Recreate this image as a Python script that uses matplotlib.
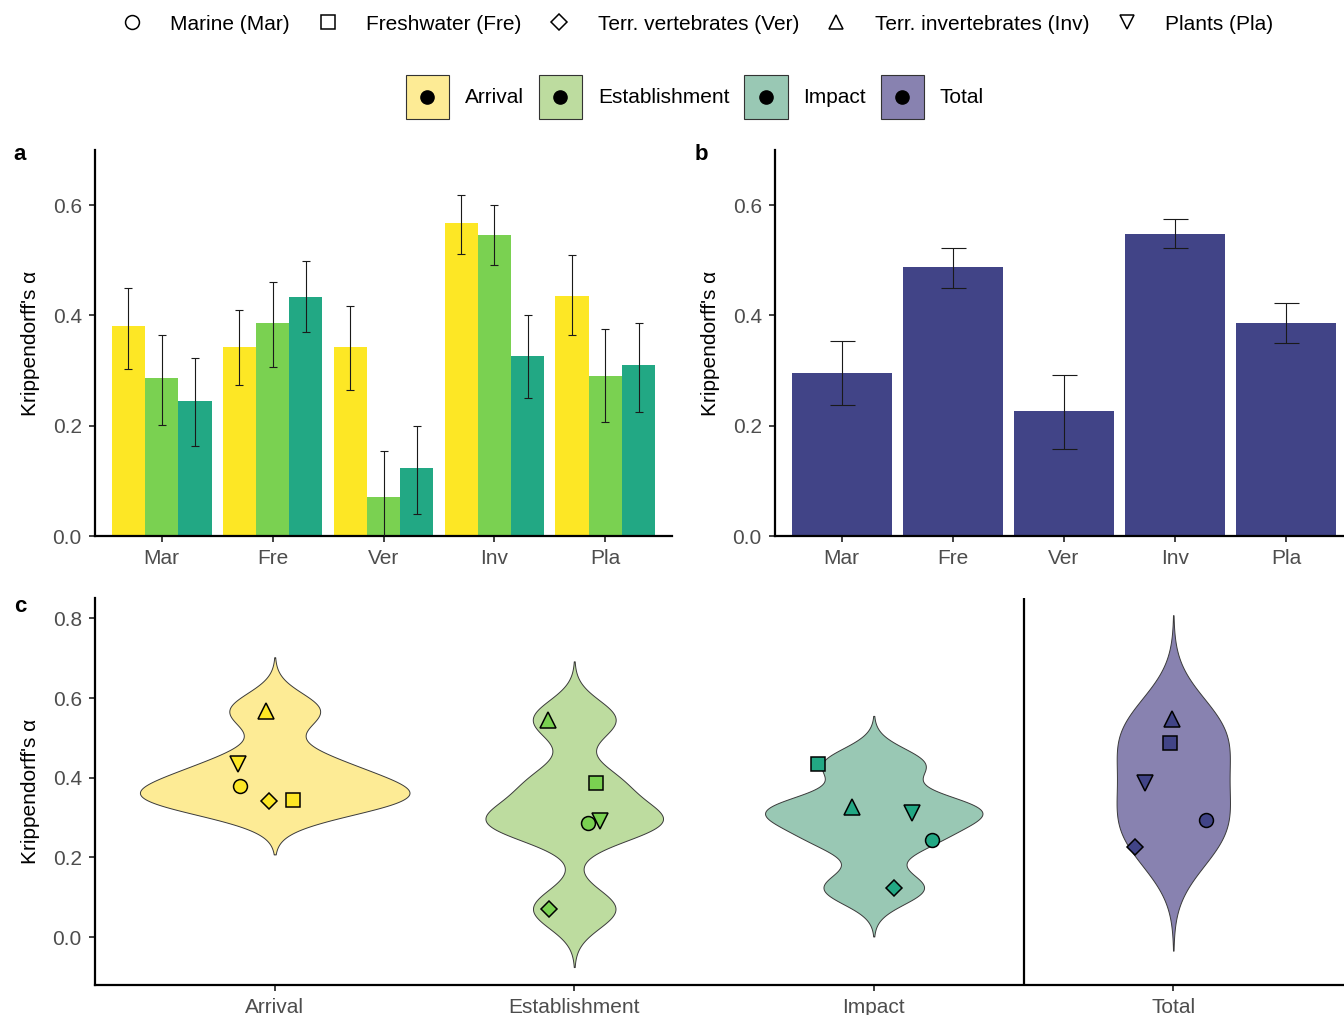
import numpy as np
import matplotlib

matplotlib.use("Agg")
import matplotlib.pyplot as plt
from matplotlib.lines import Line2D
from matplotlib.patches import Rectangle

plt.rcParams["font.family"] = ["Liberation Sans", "DejaVu Sans"]

# ---- data -----------------------------------------------------------------
GROUPS = ["Mar", "Fre", "Ver", "Inv", "Pla"]
GROUP_NAMES = ["Marine (Mar)", "Freshwater (Fre)", "Terr. vertebrates (Ver)",
               "Terr. invertebrates (Inv)", "Plants (Pla)"]
GROUP_MARKERS = ["o", "s", "D", "^", "v"]
STAGES = ["Arrival", "Establishment", "Impact", "Total"]

arrival = [0.380, 0.343, 0.342, 0.568, 0.435]
arrival_lo = [0.303, 0.273, 0.264, 0.511, 0.364]
arrival_hi = [0.450, 0.409, 0.418, 0.619, 0.509]

establishment = [0.287, 0.387, 0.071, 0.546, 0.291]
establishment_lo = [0.202, 0.307, -0.010, 0.491, 0.207]
establishment_hi = [0.364, 0.460, 0.154, 0.600, 0.375]

impact = [0.244, 0.434, 0.123, 0.327, 0.311]
impact_lo = [0.163, 0.370, 0.040, 0.250, 0.224]
impact_hi = [0.323, 0.499, 0.200, 0.400, 0.387]

total = [0.295, 0.488, 0.226, 0.548, 0.387]
total_lo = [0.237, 0.449, 0.157, 0.522, 0.350]
total_hi = [0.354, 0.523, 0.292, 0.574, 0.422]

# horizontal jitter of the points in panel c
jitter_arrival = [-0.116, 0.062, -0.019, -0.030, -0.123]
jitter_establishment = [0.046, 0.072, -0.084, -0.088, 0.087]
jitter_impact = [0.195, -0.186, 0.068, -0.073, 0.129]
jitter_total = [0.110, -0.011, -0.127, -0.003, -0.096]

# ---- style ----------------------------------------------------------------
DARK = {"Arrival": "#FDE725", "Establishment": "#7AD151",
        "Impact": "#22A884", "Total": "#414487"}
LIGHT = {"Arrival": "#FDEB95", "Establishment": "#BDDC9F",
         "Impact": "#99C8B4", "Total": "#8882B0"}
TICK_TEXT = "#4D4D4D"
FS = 15
W, H = 1344, 1015


def _style_axis(ax):
    for side in ("top", "right"):
        ax.spines[side].set_visible(False)
    for side in ("bottom", "left"):
        ax.spines[side].set_linewidth(1.6)
        ax.spines[side].set_color("black")
    ax.tick_params(colors="#333333", labelcolor=TICK_TEXT, labelsize=FS,
                   length=4, width=1.3, pad=5.5)
    ax.set_ylabel("Krippendorff's α", fontsize=FS, color="black", labelpad=9)


def _axes(fig, left, top, right, bottom):
    return fig.add_axes([left / W, 1 - bottom / H, (right - left) / W, (bottom - top) / H])


def nrd0_density(values, grid):
    """Gaussian KDE with R's bw.nrd0 bandwidth (as geom_violin does)."""
    v = np.asarray(values)
    q1, q3 = np.percentile(v, [25, 75])
    spread = min(np.std(v, ddof=1), (q3 - q1) / 1.34)
    bw = 0.9 * spread * len(v) ** -0.2
    dens = np.exp(-0.5 * ((grid[:, None] - v[None, :]) / bw) ** 2).sum(axis=1)
    return dens / (len(v) * bw * np.sqrt(2 * np.pi)), bw


class FillKey:
    """Legend key: light filled square with a black dot in the middle."""

    def __init__(self, color):
        self.color = color


class FillKeyHandler:
    def legend_artist(self, legend, orig_handle, fontsize, handlebox):
        x0, y0 = -handlebox.xdescent, -handlebox.ydescent
        width, height = handlebox.width, handlebox.height
        box = Rectangle((x0, y0), width, height, facecolor=orig_handle.color,
                        edgecolor="#333333", linewidth=0.8,
                        transform=handlebox.get_transform())
        dot = Line2D([x0 + width / 2], [y0 + height / 2], marker="o",
                     markersize=9.5, color="black", linestyle="none",
                     transform=handlebox.get_transform())
        handlebox.add_artist(box)
        handlebox.add_artist(dot)
        return box


fig = plt.figure(figsize=(W / 100, H / 100), dpi=100)

# ---- panel a --------------------------------------------------------------
ax_a = _axes(fig, 95, 150, 672, 536)
x = np.arange(1, len(GROUPS) + 1)
stage_values = [(arrival, arrival_lo, arrival_hi),
                (establishment, establishment_lo, establishment_hi),
                (impact, impact_lo, impact_hi)]
for k, (stage, (vals, lo, hi)) in enumerate(zip(STAGES[:3], stage_values)):
    xs = x + (k - 1) * 0.3
    vals = np.array(vals)
    ax_a.bar(xs, vals, width=0.3, color=DARK[stage], zorder=2)
    ax_a.errorbar(xs, vals, yerr=[vals - np.array(lo), np.array(hi) - vals],
                  fmt="none", ecolor="#1a1a1a", elinewidth=0.8, capsize=2.8,
                  capthick=0.8, zorder=3)
ax_a.set_xlim(0.4, 5.6)
ax_a.set_ylim(0, 0.7)
ax_a.set_xticks(x, GROUPS)
ax_a.set_yticks([0.0, 0.2, 0.4, 0.6])
_style_axis(ax_a)

# ---- panel b --------------------------------------------------------------
ax_b = _axes(fig, 775, 150, 1344, 536)
tot = np.array(total)
ax_b.bar(x, tot, width=0.9, color=DARK["Total"], zorder=2)
ax_b.errorbar(x, tot, yerr=[tot - np.array(total_lo), np.array(total_hi) - tot],
              fmt="none", ecolor="#1a1a1a", elinewidth=0.8, capsize=9,
              capthick=0.8, zorder=3)
ax_b.set_xlim(0.4, 5.52)
ax_b.set_ylim(0, 0.7)
ax_b.set_xticks(x, GROUPS)
ax_b.set_yticks([0.0, 0.2, 0.4, 0.6])
_style_axis(ax_b)

# ---- panel c --------------------------------------------------------------
ax_c = _axes(fig, 95, 598, 1344, 985)
all_values = [arrival, establishment, impact, total]
all_jitter = [jitter_arrival, jitter_establishment, jitter_impact, jitter_total]

curves = []
for vals in all_values:
    _, bw = nrd0_density(vals, np.array([0.0]))
    grid = np.linspace(min(vals) - 3 * bw, max(vals) + 3 * bw, 512)
    dens, _ = nrd0_density(vals, grid)
    curves.append((grid, dens))
max_dens = max(d.max() for _, d in curves)

for pos, (stage, (grid, dens)) in enumerate(zip(STAGES, curves), start=1):
    half = dens / max_dens * 0.45
    ax_c.fill_betweenx(grid, pos - half, pos + half, facecolor=LIGHT[stage],
                       edgecolor="#3a3a3a", linewidth=0.7, zorder=2)

for pos, (stage, vals, jit) in enumerate(zip(STAGES, all_values, all_jitter), start=1):
    for v, j, m in zip(vals, jit, GROUP_MARKERS):
        size = {"o": 10, "s": 10, "D": 8.5}.get(m, 11)
        ax_c.plot(pos + j, v, marker=m, markersize=size, markerfacecolor=DARK[stage],
                  markeredgecolor="black", markeredgewidth=1.1, linestyle="none",
                  zorder=3)

ax_c.axvline(3.5, color="black", linewidth=1.6, zorder=1)
ax_c.set_xlim(0.4, 4.57)
ax_c.set_ylim(-0.12, 0.851)
ax_c.set_xticks([1, 2, 3, 4], STAGES)
ax_c.set_yticks([0.0, 0.2, 0.4, 0.6, 0.8])
_style_axis(ax_c)

# ---- panel letters --------------------------------------------------------
for label, px, py in (("a", 20, 154), ("b", 701, 154), ("c", 20, 606)):
    fig.text(px / W, 1 - py / H, label, fontsize=FS + 1, fontweight="bold",
             ha="center", va="center")

# ---- legends --------------------------------------------------------------
shape_handles = [Line2D([], [], marker=m, linestyle="none", markersize=10 if m != "D" else 8.5,
                        markerfacecolor="white", markeredgecolor="black",
                        markeredgewidth=1.1) for m in GROUP_MARKERS]
fig.legend(shape_handles, GROUP_NAMES, loc="center", ncol=5,
           bbox_to_anchor=(0.519, 1 - 24 / H), frameon=False, fontsize=FS,
           handlelength=1.0, handletextpad=1.35, columnspacing=1.3,
           borderaxespad=0)

stage_handles = [FillKey(LIGHT[s]) for s in STAGES]
fig.legend(stage_handles, STAGES, loc="center", ncol=4,
           bbox_to_anchor=(0.517, 1 - 97 / H), frameon=False, fontsize=FS,
           handlelength=2.1, handleheight=2.87, handletextpad=0.75,
           columnspacing=0.7, borderaxespad=0,
           handler_map={FillKey: FillKeyHandler()})

fig.savefig("out.png", dpi=100)
